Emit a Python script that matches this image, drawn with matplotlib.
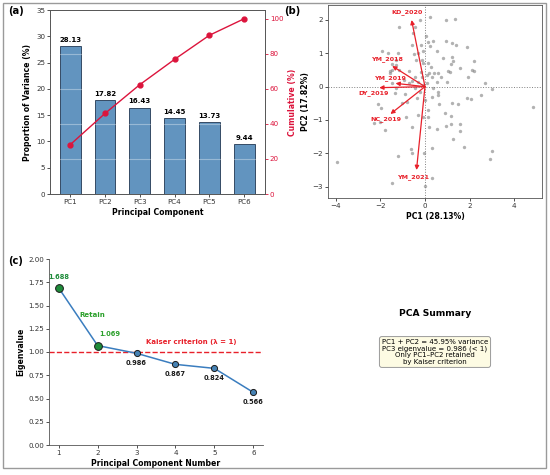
import matplotlib
matplotlib.use("Agg")
import matplotlib.pyplot as plt
from matplotlib.patches import Rectangle
import numpy as np

# ---------------- data ----------------
components = ["PC1", "PC2", "PC3", "PC4", "PC5", "PC6"]
variance = [28.13, 17.82, 16.43, 14.45, 13.73, 9.44]
cumulative = [28.13, 45.95, 62.38, 76.83, 90.56, 100.0]
eigen_idx = [1, 2, 3, 4, 5, 6]
eigenvalues = [1.688, 1.069, 0.986, 0.867, 0.824, 0.566]

pc1 = [0.23, 0.95, 1.35, -0.23, -1.16, -0.45, 0.05, -0.55, 0.37, 0.95,
       1.2, 0.12, 1.4, 1.87, -0.18, -0.6, 0.22, -1.92, -1.65, -0.08,
       0.52, -1.2, -0.5, -0.3, 1.2, 0.83, -0.15, -0.38, 2.18, -1.28,
       1.25, 1.17, -1.46, 0.15, -0.08, 1.55, 2.1, 2.22, -1.28, -1.5,
       -0.7, -1.58, -1.17, 1.02, 1.13, 0.18, 0.42, 0.6, -1.58, 1.95,
       0.3, 0.72, -0.45, -0.15, -0.93, -0.57, -0.7, 0.98, 0.07, 2.7,
       0.52, -1.5, 0.37, 3.0, -1.28, -0.45, -0.23, 0.6, -0.9, -1.35,
       0.57, 1.87, 2.5, 2.07, 0.0, -2.1, -1.05, -0.8, 1.23, 1.47,
       0.62, 4.85, -1.98, -2.28, -2.0, -0.83, -0.3, 0.9, 1.17, 0.12,
       -0.08, 0.18, -0.6, 0.52, 1.17, 0.95, 1.55, 1.55, -1.8, 1.25,
       1.75, 0.3, -0.63, -0.6, -0.03, -1.2, 3.0, 2.93, -3.95, 0.33,
       -1.5, 0.0, 0.1, -0.2, 0.3, -0.35, 0.15, -0.1, 0.25, -0.3]
pc2 = [2.1, 2.0, 2.02, 2.0, 1.8, 1.8, 1.52, 1.6, 1.38, 1.38,
       1.3, 1.35, 1.25, 1.2, 1.25, 1.25, 1.23, 1.07, 1.02, 1.08,
       1.08, 1.0, 0.98, 1.0, 0.9, 0.85, 0.8, 0.8, 0.77, 0.8,
       0.78, 0.68, 0.68, 0.7, 0.7, 0.57, 0.5, 0.47, 0.65, 0.5,
       0.47, 0.47, 0.5, 0.48, 0.45, 0.4, 0.42, 0.4, 0.42, 0.3,
       0.28, 0.3, 0.28, 0.28, 0.2, 0.18, 0.1, 0.14, 0.1, 0.1,
       0.15, 0.1, -0.05, -0.08, -0.05, -0.05, -0.15, -0.15, -0.22, -0.2,
       -0.25, -0.33, -0.25, -0.38, -0.4, -0.53, -0.5, -0.47, -0.5, -0.52,
       -0.51, -0.6, -0.65, -1.08, -1.07, -0.9, -0.85, -0.8, -0.87, -0.92,
       -0.9, -1.2, -1.2, -1.28, -1.12, -1.18, -1.12, -1.33, -1.3, -1.58,
       -1.82, -1.83, -1.88, -2.0, -2.0, -2.07, -1.93, -2.18, -2.25, -2.73,
       -2.9, -2.98, 0.35, 0.45, -0.3, -0.35, -0.7, 0.05, 0.6, 0.15]

loading_names = ["KD_2020", "YM_2018", "YM_2019", "DY_2019", "NC_2019", "YM_2021"]
loading_x = [-0.6, -1.47, -1.32, -2.05, -1.55, -0.38]
loading_y = [2.0, 0.62, 0.1, -0.03, -0.82, -2.5]
label_x = [-0.8, -1.7, -1.58, -2.3, -1.75, -0.55]
label_y = [2.23, 0.82, 0.27, -0.18, -0.97, -2.7]

# ---------------- figure ----------------
W, H = 550, 475
fig = plt.figure(figsize=(W / 100, H / 100), dpi=100)

def fr(x0, y0, x1, y1):
    return [x0 / W, 1 - y1 / H, (x1 - x0) / W, (y1 - y0) / H]

tick_fs = 5.1
lab_fs = 5.6
tick_col = "#333333"
crimson = "#DC143C"
red = "#E8202A"

# border
fig.patches.append(Rectangle((3 / W, 1 - 468 / H), 543 / W, 465 / H,
                             transform=fig.transFigure, fill=False,
                             edgecolor="#9a9a9a", linewidth=1.0))

# ---- (a) ----
axa = fig.add_axes(fr(50, 10, 265, 194))
x = np.arange(len(components))
axa.bar(x, variance, width=0.6, color="steelblue", alpha=0.85,
        edgecolor="#1f3550", linewidth=0.7, zorder=2)
for xi, v in zip(x, variance):
    axa.text(xi, v + 0.6, f"{v:.2f}", ha="center", va="bottom",
             fontsize=5.0, fontweight="bold")
axa.set_xticks(x)
axa.set_xticklabels(components)
axa.set_ylim(0, 35)
axa.set_xlim(-0.58, 5.6)
axa.set_ylabel("Proportion of Variance (%)", fontsize=lab_fs, fontweight="bold", labelpad=3)
axa.set_xlabel("Principal Component", fontsize=lab_fs, fontweight="bold", labelpad=2)
axa.tick_params(labelsize=tick_fs, colors=tick_col, length=2, width=0.6, pad=1.5)
for s in axa.spines.values():
    s.set_linewidth(0.6)
    s.set_color("#555555")

axa2 = axa.twinx()
axa2.plot(x, cumulative, color=crimson, marker="o", markersize=3.5, linewidth=1.0, zorder=3)
axa2.set_ylim(0, 105)
axa2.set_yticks([0, 20, 40, 60, 80, 100])
axa2.grid(axis="y", color="white", alpha=0.35, linewidth=0.8)
axa2.set_ylabel("Cumulative (%)", fontsize=lab_fs, fontweight="bold", color=crimson, labelpad=3)
axa2.tick_params(axis="y", labelsize=tick_fs, colors=crimson, length=2, width=0.6, pad=1.5)
for s in axa2.spines.values():
    s.set_linewidth(0.6)
    s.set_color("#555555")
fig.text(8 / W, 1 - 11 / H, "(a)", fontsize=7.2, fontweight="bold", ha="left", va="center")

# ---- (b) ----
axb = fig.add_axes(fr(328, 5, 542, 198))
axb.scatter(pc1, pc2, s=6, color="gray", alpha=0.6, linewidths=0, zorder=1)
axb.axhline(0, color="gray", linestyle=":", linewidth=0.7, zorder=0)
axb.axvline(0, color="gray", linestyle=":", linewidth=0.7, zorder=0)
for name, lx, ly, tx, ty in zip(loading_names, loading_x, loading_y, label_x, label_y):
    axb.annotate("", xy=(lx, ly), xytext=(0, 0),
                 arrowprops=dict(arrowstyle="-|>", color=red, lw=0.9,
                                 mutation_scale=6, shrinkA=0, shrinkB=0), zorder=3)
    axb.text(tx, ty, name, color=red, fontsize=4.6, fontweight="bold",
             ha="center", va="center", zorder=4)
axb.set_xlim(-4.35, 5.25)
axb.set_ylim(-3.34, 2.45)
axb.set_xticks([-4, -2, 0, 2, 4])
axb.set_yticks([-3, -2, -1, 0, 1, 2])
axb.set_xlabel("PC1 (28.13%)", fontsize=lab_fs, fontweight="bold", labelpad=2)
axb.set_ylabel("PC2 (17.82%)", fontsize=lab_fs, fontweight="bold", labelpad=2)
axb.tick_params(labelsize=tick_fs, colors=tick_col, length=2, width=0.6, pad=1.5)
for s in axb.spines.values():
    s.set_linewidth(0.6)
    s.set_color("#555555")
fig.text(284 / W, 1 - 11 / H, "(b)", fontsize=7.2, fontweight="bold", ha="left", va="center")

# ---- (c) ----
axc = fig.add_axes(fr(49, 259, 263, 445))
blue = "#3a7dbf"
green = "#1e8c3a"
axc.plot(eigen_idx, eigenvalues, color=blue, linewidth=1.1, zorder=2)
cols = [green if e > 1 else "#4682b4" for e in eigenvalues]
sizes = [5.6 if e > 1 else 4.4 for e in eigenvalues]
for xi, e, c, ms in zip(eigen_idx, eigenvalues, cols, sizes):
    axc.plot(xi, e, marker="o", markersize=ms, markerfacecolor=c,
             markeredgecolor="#1a1a1a", markeredgewidth=0.7, zorder=3)
axc.axhline(1.0, color=red, linestyle="--", linewidth=1.0, zorder=1)
for xi, e in zip(eigen_idx, eigenvalues):
    if e > 1:
        if xi == 1:
            axc.annotate(f"{e:.3f}", (xi, e), xytext=(0, 6), textcoords="offset points",
                         ha="center", va="bottom", fontsize=4.8, fontweight="bold", color=green)
        else:
            axc.annotate(f"{e:.3f}", (xi, e), xytext=(1, 6), textcoords="offset points",
                         ha="left", va="bottom", fontsize=4.8, fontweight="bold", color="#2ca02c")
    else:
        axc.annotate(f"{e:.3f}", (xi, e), xytext=(0, -4.5), textcoords="offset points",
                     ha="center", va="top", fontsize=4.8, fontweight="bold", color="#1a1a1a")
axc.text(1.87, 1.40, "Retain", color="#2ca02c", fontsize=5.0, fontweight="bold",
         ha="center", va="center")
axc.text(4.4, 1.106, "Kaiser criterion (λ = 1)", color=red, fontsize=5.0,
         fontweight="bold", ha="center", va="center")
axc.set_xlim(0.75, 6.25)
axc.set_ylim(0, 2.0)
axc.set_xticks(eigen_idx)
axc.set_yticks(np.arange(0, 2.01, 0.25))
axc.yaxis.set_major_formatter(matplotlib.ticker.FormatStrFormatter("%.2f"))
axc.spines["top"].set_visible(False)
axc.spines["right"].set_visible(False)
for s in ("left", "bottom"):
    axc.spines[s].set_linewidth(0.6)
    axc.spines[s].set_color("#555555")
axc.set_xlabel("Principal Component Number", fontsize=lab_fs, fontweight="bold", labelpad=2)
axc.set_ylabel("Eigenvalue", fontsize=lab_fs, fontweight="bold", labelpad=2)
axc.tick_params(labelsize=tick_fs, colors=tick_col, length=2, width=0.6, pad=1.5)
fig.text(8 / W, 1 - 261 / H, "(c)", fontsize=7.2, fontweight="bold", ha="left", va="center")

# ---- (d) summary ----
fig.text(435 / W, 1 - 314 / H, "PCA Summary", fontsize=6.6, fontweight="bold",
         ha="center", va="center")
summary = ("PC1 + PC2 = 45.95% variance\n"
           "PC3 eigenvalue = 0.986 (< 1)\n"
           "Only PC1–PC2 retained\n"
           "by Kaiser criterion")
fig.text(435 / W, 1 - 352 / H, summary, fontsize=5.0, ha="center", va="center",
         linespacing=1.1,
         bbox=dict(boxstyle="round,pad=0.35", facecolor="#fdfbe3",
                   edgecolor="#9a9a9a", linewidth=0.7))

fig.savefig("out.png", dpi=100)
